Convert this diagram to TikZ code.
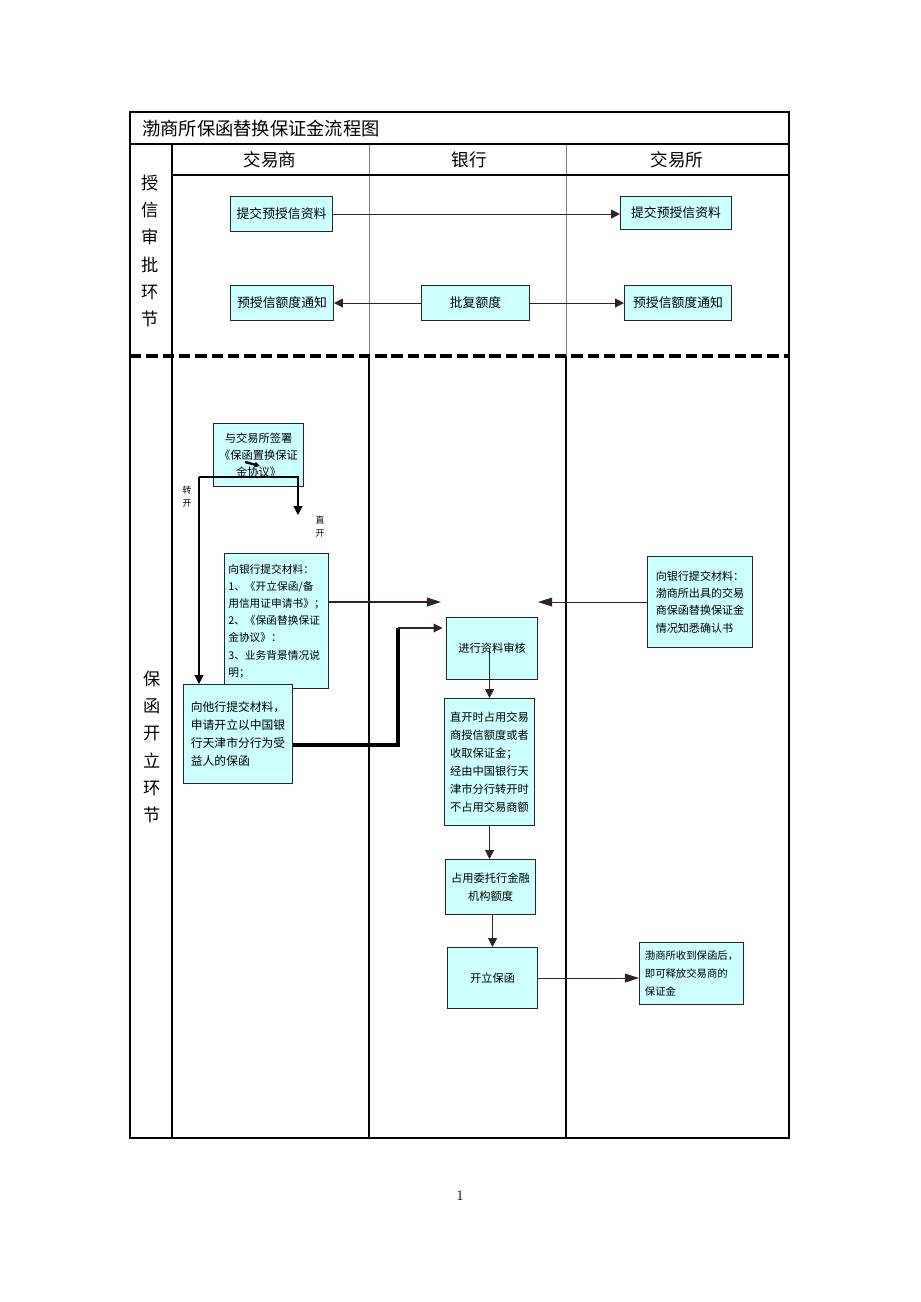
\documentclass[tikz,border=0pt]{standalone}
\usepackage{fontspec}
\newfontfamily\cjk{Noto Sans CJK SC}
\usetikzlibrary{arrows.meta}
\definecolor{boxcyan}{HTML}{CCFFFF}
\definecolor{linkcol}{HTML}{302030}
\tikzset{
	frame/.style={line width=1.6pt},
	thinlane/.style={draw=black!50, line width=0.5pt},
	box/.style 2 args={draw=black!85, line width=0.6pt, fill=boxcyan, anchor=north west, inner sep=1.5pt, minimum width=#1*0.02cm, minimum height=#2*0.02cm, font=\cjk\fontsize{6.4}{10.2}\selectfont, align=left},
	topbox/.style={font=\cjk\fontsize{7.3}{9}\selectfont},
	flow/.style={draw=linkcol, line width=0.6pt, -{Triangle[length=5pt,width=5pt]}},
	bigtip/.style={-{Triangle[length=8pt,width=5pt]}},
	heading/.style={font=\cjk\fontsize{10}{12}\selectfont},
	sidelabel/.style={font=\cjk\fontsize{9.8}{15.5}\selectfont, align=center},
	tag/.style={font=\cjk\fontsize{5}{7.4}\selectfont, align=center},
}
\begin{document}
\begin{tikzpicture}[x=0.02cm,y=-0.02cm]
	\fill[white] (0,0) rectangle (920,1302);
	\useasboundingbox (0,0) rectangle (920,1302);
	\draw[thinlane] (369,144) -- (369,356);
	\draw[thinlane] (566,144) -- (566,356);
	\draw[frame] (369,356) -- (369,1138);
	\draw[frame] (566,356) -- (566,1138);
	\draw[frame] (172,144) -- (172,1138);
	\draw[line width=1.1pt] (130,144) -- (789,144);
	\draw[line width=1.4pt] (172,175) -- (789,175);
	\draw[line width=2pt, dash pattern=on 6.5pt off 2.8pt] (130,356) -- (789,356);
	\draw[frame] (130,112) rectangle (789,1138);

	\node[anchor=west, font=\cjk\fontsize{10.4}{12}\selectfont] (title) at (136,128) {渤商所保函替换保证金流程图};
	\node[heading] (trader) at (270,160) {交易商};
	\node[heading] (bank) at (469,160) {银行};
	\node[heading] (exch) at (677,160) {交易所};
	\node[sidelabel] (credit) at (150,251) {授\\信\\审\\批\\环\\节};
	\node[sidelabel] (issuing) at (152,747) {保\\函\\开\\立\\环\\节};

	\node[box={102}{35}, topbox] (sub1) at (230,196) {提交预授信资料};
	\node[box={111}{33}, topbox] (sub2) at (620,196) {提交预授信资料};
	\node[box={103}{35}, topbox] (notice1) at (230,285) {预授信额度通知};
	\node[box={108}{35}, topbox] (approve) at (421,285) {批复额度};
	\node[box={107}{35}, topbox] (notice2) at (624,285) {预授信额度通知};

	\node[box={90}{63}, align=center, font=\cjk\fontsize{6.4}{9.6}\selectfont] (sign) at (213,423) {与交易所签署\\《保函置换保证\\金协议》};
	\node[box={104}{135}, font=\cjk\fontsize{6.1}{9.8}\selectfont] (bankmat) at (224,553) {向银行提交材料：\\1、《开立保函/备\\用信用证申请书》；\\2、《保函替换保证\\金协议》：\\3、业务背景情况说\\明；};
	\node[box={109}{99}, font=\cjk\fontsize{6.7}{10.4}\selectfont] (other) at (183,684) {向他行提交材料，\\申请开立以中国银\\行天津市分行为受\\益人的保函};
	\node[box={91}{62}] (review) at (446,617) {进行资料审核};
	\node[box={90}{127}] (cond) at (444,698) {直开时占用交易\\商授信额度或者\\收取保证金；\\经由中国银行天\\津市分行转开时\\不占用交易商额};
	\node[box={90}{55}, align=center] (occ) at (445,859) {占用委托行金融\\机构额度};
	\node[box={90}{61}] (issue) at (447,947) {开立保函};
	\node[box={104}{62}, font=\cjk\fontsize{5.9}{10.5}\selectfont] (release) at (639,942) {渤商所收到保函后，\\即可释放交易商的\\保证金};
	\node[box={105}{91}, font=\cjk\fontsize{6.3}{9.8}\selectfont] (exmat) at (647,556) {向银行提交材料：\\渤商所出具的交易\\商保函替换保证金\\情况知悉确认书};

	\node[tag] (zhuan) at (187,497) {转\\开};
	\node[tag] (zhikai) at (320,527) {直\\开};
	\node[font=\fontsize{8}{9}\selectfont] (page) at (460,1196) {1};

	\draw[flow] (sub1.east) -- (sub1.east -| sub2.west);
	\draw[flow] (approve.west) -- (notice1.east);
	\draw[flow] (approve.east) -- (notice2.west);

	\coordinate (split) at (199,477);
	\coordinate (zhi) at (298,515);
	\coordinate (g1) at (245,462);
	\coordinate (g2) at (260,466);
	\coordinate (inL) at (441,602);
	\coordinate (bend) at (398,745);
	\coordinate (jog) at (398,628);
	\draw[flow, draw=black] (split) -| (zhi);
	\draw[flow, draw=black] (split) -- (split |- other.north);
	\draw[line width=1.3pt, -{Triangle[length=3pt,width=3pt]}] (g1) -- (g2);
	\draw[flow, bigtip] (bankmat.east |- inL) -- (inL);
	\draw[flow, bigtip] (exmat.west) -- (exmat.west -| review.east);
	\draw[line width=2.8pt] (other.east |- bend) -- (bend) -- (jog);
	\draw[flow, shorten >=2pt] (jog) -- (review.west |- jog);
	\draw[flow] (review.center -| cond.north) -- (cond.north);
	\draw[flow] (cond.south) -- (cond.south |- occ.north);
	\draw[flow] (occ.south -| issue.north) -- (issue.north);
	\draw[flow, bigtip] (issue.east) -- (issue.east -| release.west);
\end{tikzpicture}
\end{document}
